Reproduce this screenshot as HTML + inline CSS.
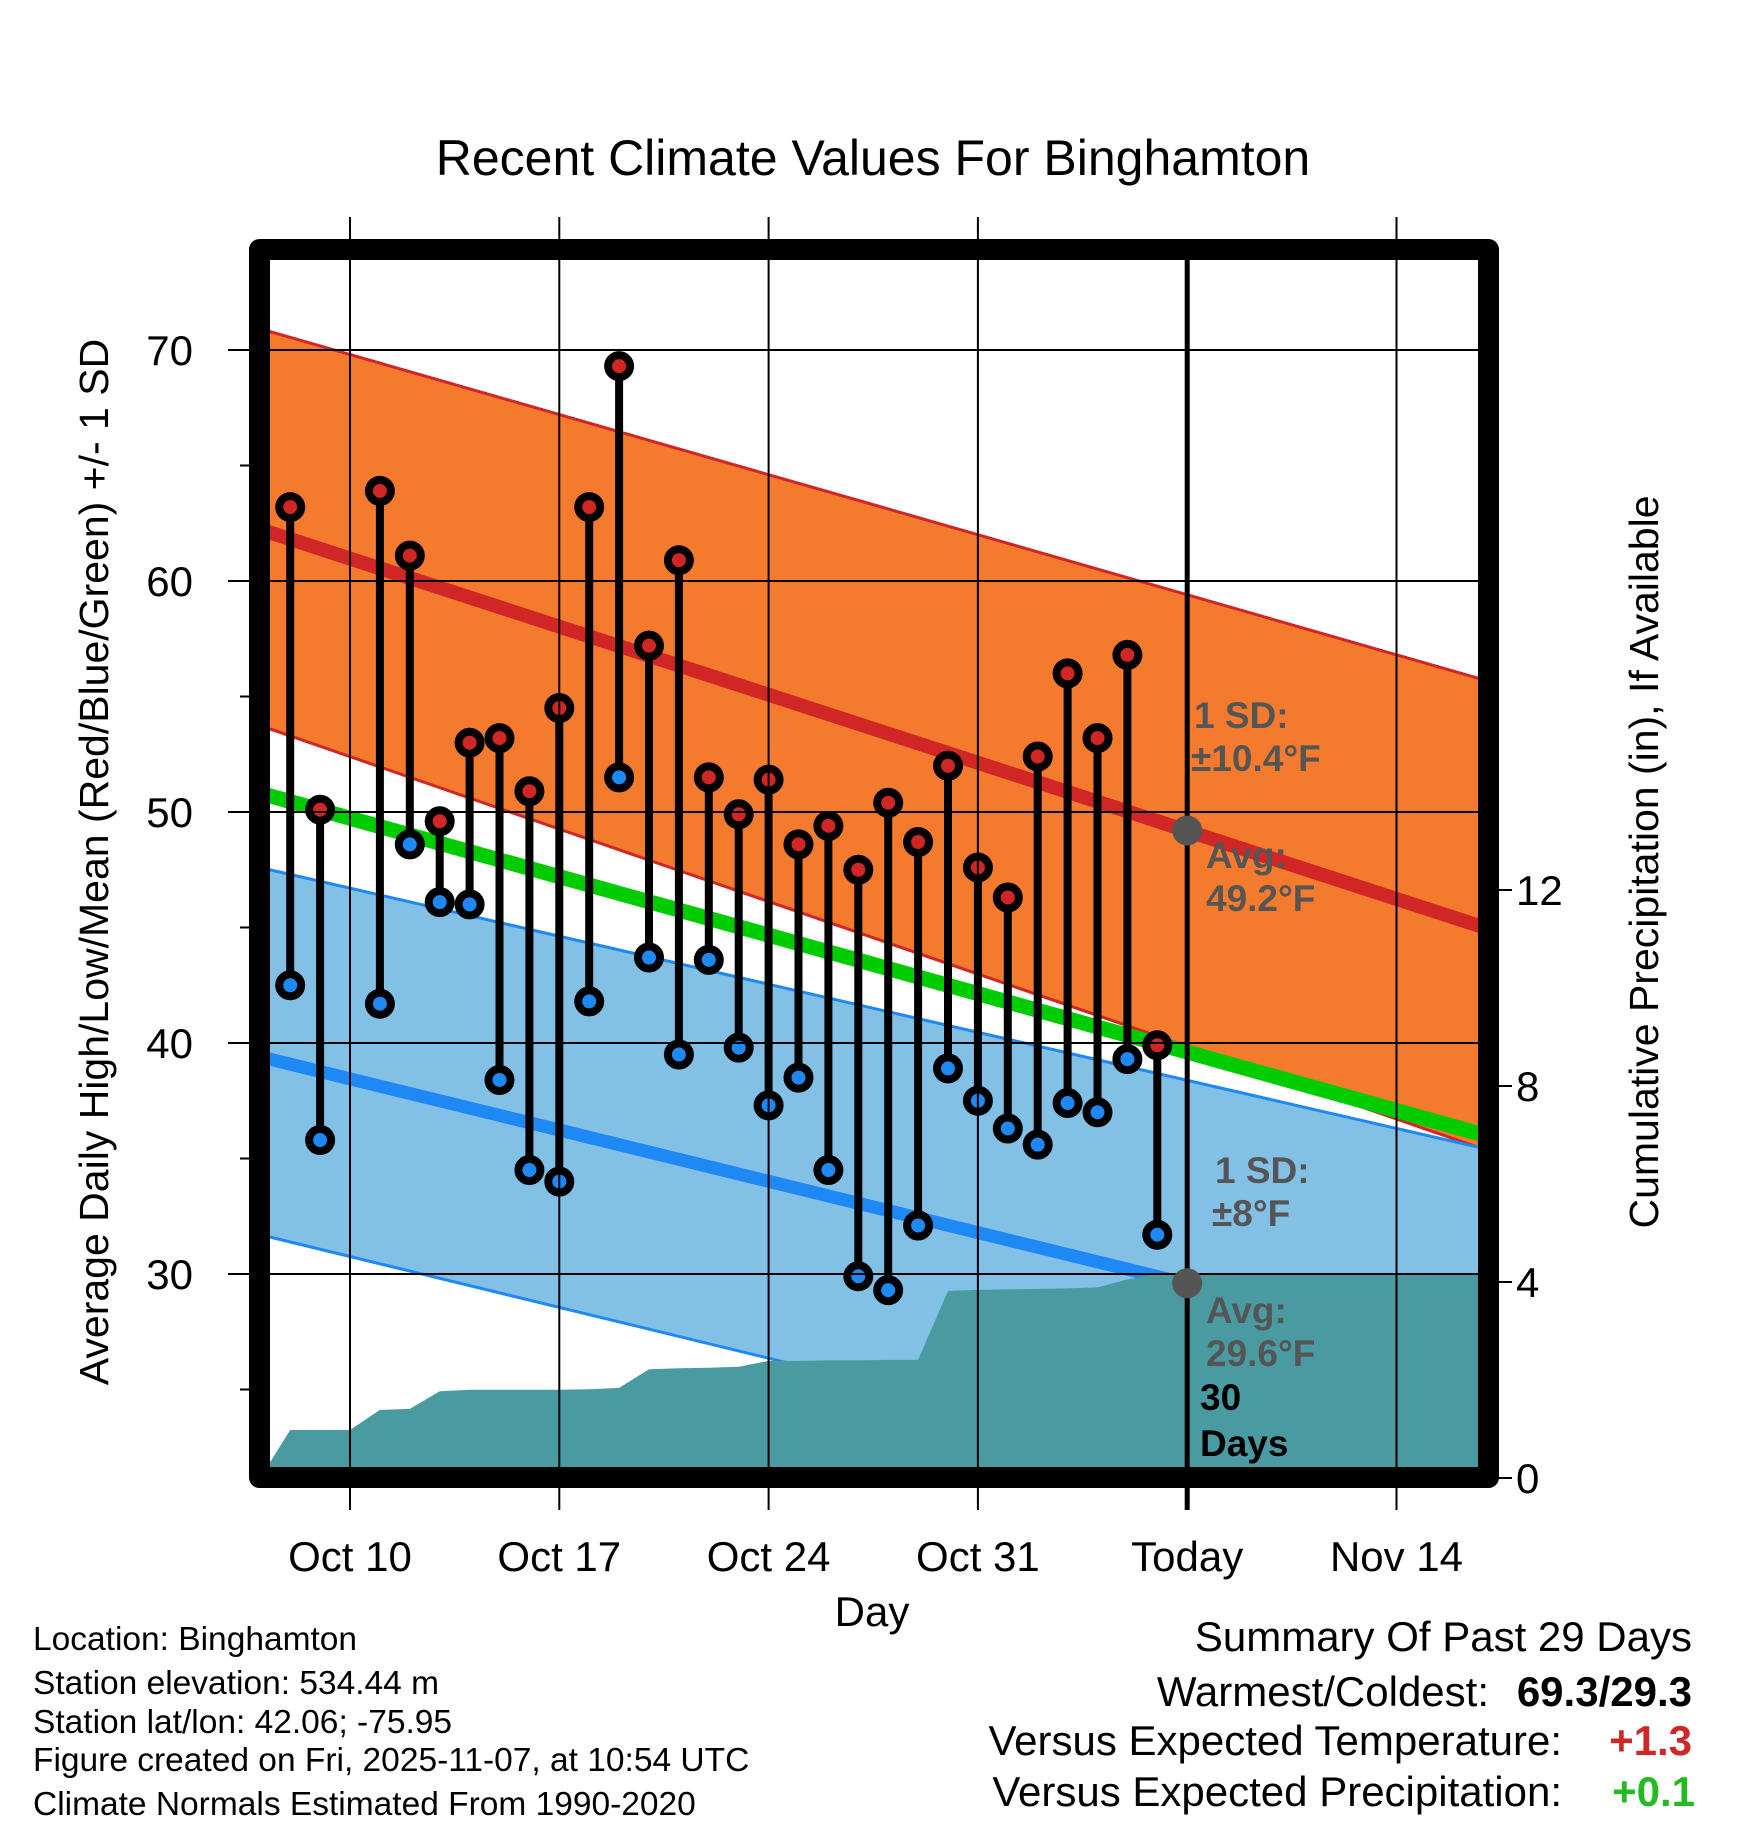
<!DOCTYPE html>
<html><head><meta charset="utf-8"><style>
html,body{margin:0;padding:0;background:#fff;}
svg{display:block;font-family:"Liberation Sans",Arial,sans-serif;}
</style></head><body>
<svg id="chart" width="1748" height="1828" viewBox="0 0 1748 1828" xmlns="http://www.w3.org/2000/svg">
<defs><clipPath id="pc"><rect x="270" y="260" width="1208" height="1208"/></clipPath></defs>
<text x="873" y="175" font-size="50" text-anchor="middle">Recent Climate Values For Binghamton</text>
<g id="plot" clip-path="url(#pc)"></g>
<g id="axes"></g>
<rect x="259.5" y="249.5" width="1229" height="1228" fill="none" stroke="#000" stroke-width="21" stroke-linejoin="round"/>
<g id="fg"></g>
<text transform="translate(108,862) rotate(-90)" font-size="41" text-anchor="middle">Average Daily High/Low/Mean (Red/Blue/Green) +/- 1 SD</text>
<text transform="translate(1658,862) rotate(-90)" font-size="41" text-anchor="middle">Cumulative Precipitation (in), If Available</text>
<text x="872" y="1626" font-size="42" text-anchor="middle">Day</text>
<g font-weight="bold" fill="#555" font-size="37">
<text x="1194" y="728">1 SD:</text>
<text x="1191" y="771">±10.4°F</text>
<text x="1206" y="868">Avg:</text>
<text x="1206" y="911">49.2°F</text>
<text x="1215" y="1183">1 SD:</text>
<text x="1212" y="1226">±8°F</text>
<text x="1206" y="1323">Avg:</text>
<text x="1206" y="1366">29.6°F</text>
<text x="1200" y="1410" fill="#000">30</text>
<text x="1200" y="1456" fill="#000">Days</text>
</g>
<g font-size="33.5">
<text x="33" y="1650">Location: Binghamton</text>
<text x="33" y="1694">Station elevation: 534.44 m</text>
<text x="33" y="1733">Station lat/lon: 42.06; -75.95</text>
<text x="33" y="1771">Figure created on Fri, 2025-11-07, at 10:54 UTC</text>
<text x="33" y="1815">Climate Normals Estimated From 1990-2020</text>
</g>
<g font-size="42">
<text x="1692" y="1651" text-anchor="end">Summary Of Past 29 Days</text>
<text x="1489" y="1706" text-anchor="end">Warmest/Coldest:</text>
<text x="1692" y="1706" text-anchor="end" font-weight="bold">69.3/29.3</text>
<text x="1562" y="1755" text-anchor="end">Versus Expected Temperature:</text>
<text x="1692" y="1755" text-anchor="end" font-weight="bold" fill="#d02626">+1.3</text>
<text x="1562" y="1806" text-anchor="end">Versus Expected Precipitation:</text>
<text x="1695" y="1806" text-anchor="end" font-weight="bold" fill="#22bb22">+0.1</text>
</g>
</svg>
<script>
const days = [-2,-1,1,2,3,4,5,6,7,8,9,10,11,12,13,14,15,16,17,18,19,20,21,22,23,24,25,26,27];
const highs = [63.2,50.1,63.9,61.1,49.6,53.0,53.2,50.9,54.5,63.2,69.3,57.2,60.9,51.5,49.9,51.4,48.6,49.4,47.5,50.4,48.7,52.0,47.6,46.3,52.4,56.0,53.2,56.8,39.9];
const lows = [42.5,35.8,41.7,48.6,46.1,46.0,38.4,34.5,34.0,41.8,51.5,43.7,39.5,43.6,39.8,37.3,38.5,34.5,29.9,29.3,32.1,38.9,37.5,36.3,35.6,37.4,37.0,39.3,31.7];
const precipDays = [-3,-2,-1,0,1,2,3,4,5,6,7,8,9,10,11,12,13,14,15,16,17,18,19,20,21,22,23,24,25,26,27,28,38];
const precip = [0,0.98,0.98,0.98,1.39,1.41,1.77,1.8,1.8,1.8,1.8,1.81,1.84,2.22,2.24,2.25,2.27,2.39,2.39,2.4,2.4,2.41,2.41,3.82,3.84,3.85,3.86,3.87,3.89,4.05,4.17,4.17,4.17];
const normEnds = [-2.68, 37.7];
const highMean = [62.1, 45.1];
const highUpper = [70.8, 55.8];
const highLower = [53.6, 35.5];
const lowMean = [39.3, 26.5];
const lowUpper = [47.5, 35.5];
const lowLower = [31.6, 18.9];
const xTickDays = [0,7,14,21,28,35];
const xTickLabels = ["Oct 10","Oct 17","Oct 24","Oct 31","Today","Nov 14"];
const yTicks = [30,40,50,60,70];
const pTicks = [0,4,8,12];
const todayDay = 28;
const todayHigh = 49.2, todayLow = 29.6;

const NS="http://www.w3.org/2000/svg";
const X = d => 350 + d*29.9;
const Y = t => 350 + (70 - t)*23.1;
const P = p => 1478 - p*49;
function mk(tag, attrs, parent){const e=document.createElementNS(NS,tag);for(const k in attrs)e.setAttribute(k,attrs[k]);parent.appendChild(e);return e;}
const plot=document.getElementById('plot'), axes=document.getElementById('axes'), fg=document.getElementById('fg');
function lin(arr,d){return arr[0]+(arr[1]-arr[0])*(d-normEnds[0])/(normEnds[1]-normEnds[0]);}
const ext=[-3,38];
function pts(arr){return ext.map(d=>X(d)+','+Y(lin(arr,d))).join(' ');}
function band(upper,lower,fill,edge,name){
  const up=ext.map(d=>X(d)+','+Y(lin(upper,d)));
  const dn=ext.slice().reverse().map(d=>X(d)+','+Y(lin(lower,d)));
  let e=mk('polygon',{points:up.concat(dn).join(' '),fill:fill},plot);
  
  
  e=mk('polyline',{points:up.join(' '),fill:'none',stroke:edge,'stroke-width':3},plot);
  
  
  e=mk('polyline',{points:dn.join(' '),fill:'none',stroke:edge,'stroke-width':3},plot);
  
  
}
band(highUpper,highLower,'#f47a2e','#d02626','high-sd-band');
band(lowUpper,lowLower,'#82c0e6','#1e88f5','low-sd-band');
yTicks.forEach(t=>{const e=mk('line',{x1:228,x2:1478,y1:Y(t),y2:Y(t),stroke:'#000','stroke-width':2},axes);
  
  
  const l=mk('text',{x:193,y:Y(t)+15,'font-size':42,'text-anchor':'end'},axes);l.textContent=t;
  
  });
for(let t=25;t<=65;t+=10){const e=mk('line',{x1:240,x2:250,y1:Y(t),y2:Y(t),stroke:'#000','stroke-width':2},axes);
  
  }
xTickDays.forEach((d,i)=>{if(d!==todayDay){const e=mk('line',{x1:X(d),x2:X(d),y1:217,y2:1510,stroke:'#000','stroke-width':2},axes);
  
  }
  const l=mk('text',{x:X(d),y:1571,'font-size':42,'text-anchor':'middle'},axes);l.textContent=xTickLabels[i];
  
  });
pTicks.forEach(p=>{const e=mk('line',{x1:1490,x2:1512,y1:P(p),y2:P(p),stroke:'#000','stroke-width':2},axes);
  
  
  const l=mk('text',{x:1516,y:P(p)+15,'font-size':42},axes);l.textContent=p;
  
  });
const meanAvg=[(highMean[0]+lowMean[0])/2,(highMean[1]+lowMean[1])/2+0.3];
let e=mk('polyline',{points:pts(meanAvg),fill:'none',stroke:'#00cc00','stroke-width':15},plot);


e=mk('polyline',{points:pts(highMean),fill:'none',stroke:'#d02626','stroke-width':14},plot);


e=mk('polyline',{points:pts(lowMean),fill:'none',stroke:'#1e88f5','stroke-width':13},plot);


const pp=precipDays.map((d,i)=>X(d)+','+P(precip[i]));
pp.push(X(precipDays[precipDays.length-1])+','+P(0), X(precipDays[0])+','+P(0));
e=mk('polygon',{points:pp.join(' '),fill:'#4a9aa2'},plot);


days.forEach((d,i)=>{
  const s=mk('line',{x1:X(d),x2:X(d),y1:Y(highs[i]),y2:Y(lows[i]),stroke:'#000','stroke-width':8},plot);
  
  
  const h=mk('circle',{cx:X(d),cy:Y(highs[i]),r:11,fill:'#d02626',stroke:'#000','stroke-width':8},plot);
  
  
  const l=mk('circle',{cx:X(d),cy:Y(lows[i]),r:11,fill:'#1e88f5',stroke:'#000','stroke-width':8},plot);
  
  
});
e=mk('line',{x1:X(todayDay),x2:X(todayDay),y1:249,y2:1510,stroke:'#000','stroke-width':5},fg);


e=mk('circle',{cx:X(todayDay),cy:Y(todayHigh),r:15,fill:'#555'},fg);


e=mk('circle',{cx:X(todayDay),cy:Y(todayLow),r:15,fill:'#555'},fg);


</script>
</body></html>
